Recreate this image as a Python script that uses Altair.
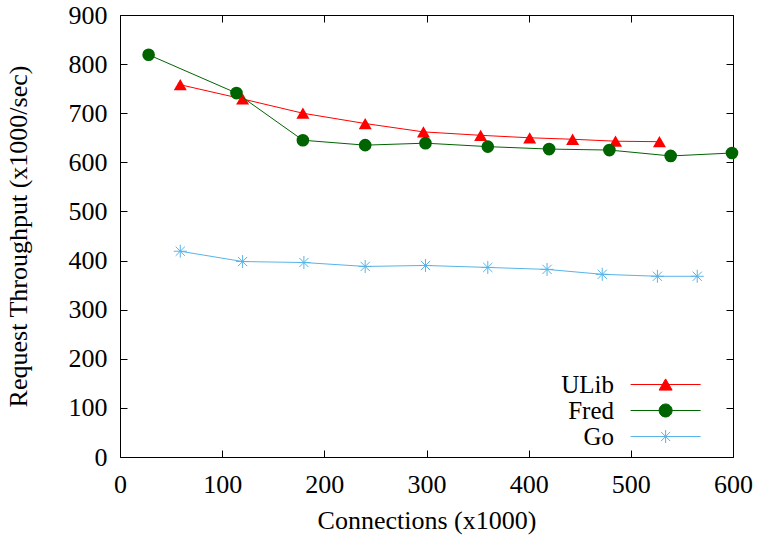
import altair as alt
import pandas as pd

# ---- data ----
series_names = ["ULib", "Fred", "Go"]
series_colors = ["#ff0000", "#006400", "#56b4e9"]

ulib_x = [59, 120, 179, 240, 297, 353, 401, 443, 485, 528]
ulib_y = [758, 729, 700, 679, 662, 655, 650, 647, 643, 642]

fred_x = [28, 114, 179, 240, 299, 360, 420, 479, 539, 599]
fred_y = [819, 741, 645, 635, 639, 632, 627, 625, 613, 619]

go_x = [59, 120, 180, 240, 299, 360, 418, 472, 526, 565]
go_y = [419, 398, 396, 388, 390, 386, 382, 372, 368, 368]

x_ticks = [0, 100, 200, 300, 400, 500, 600]
y_ticks = [0, 100, 200, 300, 400, 500, 600, 700, 800, 900]

x_title = "Connections (x1000)"
y_title = "Request Throughput (x1000/sec)"

# ---- tables ----
rows = []
for name, xs_, ys_ in zip(series_names, [ulib_x, fred_x, go_x], [ulib_y, fred_y, go_y]):
    for i, (a, b) in enumerate(zip(xs_, ys_)):
        rows.append({"series": name, "conn": a, "thr": b, "idx": i})
df = pd.DataFrame(rows)
legend_df = pd.DataFrame({"series": series_names})

FONT = "'Liberation Serif', 'DejaVu Serif', 'Times New Roman', serif"
FS = 26

xscale = alt.Scale(domain=[0, 600], nice=False, zero=False)
yscale = alt.Scale(domain=[0, 900], nice=False, zero=False)

main_x_axis = alt.Axis(orient="bottom", values=x_ticks, ticks=False, tickSize=0, domain=False,
                       grid=False, labelFont=FONT, labelFontSize=FS, labelColor="black",
                       labelFlush=False, labelOverlap=False,
                       labelPadding=14, title=x_title, titleFont=FONT, titleFontSize=FS,
                       titleFontWeight="normal", titleColor="black", titlePadding=10)
main_y_axis = alt.Axis(orient="left", values=y_ticks, ticks=False, tickSize=0, domain=False,
                       grid=False, labelFont=FONT, labelFontSize=FS, labelColor="black",
                       labelFlush=False, labelOverlap=False,
                       labelPadding=13, title=y_title, titleFont=FONT, titleFontSize=FS,
                       titleFontWeight="normal", titleColor="black", titlePadding=37)


def tick_axis(orient, values):
    return alt.Axis(orient=orient, values=values, offset=-7, tickSize=7, tickColor="black",
                    tickWidth=1, labels=False, domain=False, grid=False, title=None)


asterisk = "M-1,0H1M0,-1V1M-0.71,-0.71L0.71,0.71M-0.71,0.71L0.71,-0.71"
# legend symbols: a line sample with the marker in its middle, shifted right of the label
legend_paths = [
    "M4.16,0H14.16M9.16,-0.8L10.09,0.8L8.23,0.8Z",
    "M4.16,0H14.16M10.09,0A0.93,0.93,0,1,1,8.23,0A0.93,0.93,0,1,1,10.09,0Z",
    "M4.16,0H14.16M8.23,0H10.09M9.16,-0.93V0.93M8.5,-0.66L9.82,0.66M8.5,0.66L9.82,-0.66",
]

base = alt.Chart(df)


def sel(name):
    return base.transform_filter(alt.datum.series == name)


ulib_line = sel("ULib").mark_line(color=series_colors[0], strokeWidth=1).encode(
    x=alt.X("conn:Q", scale=xscale, axis=main_x_axis),
    y=alt.Y("thr:Q", scale=yscale, axis=main_y_axis),
    order="idx:Q",
)
ulib_pts = sel("ULib").mark_point(shape="triangle-up", filled=True, size=169,
                                  color=series_colors[0], opacity=1).encode(
    x=alt.X("conn:Q", scale=xscale, axis=tick_axis("bottom", x_ticks)),
    y=alt.Y("thr:Q", scale=yscale, axis=tick_axis("left", y_ticks)),
)
fred_line = sel("Fred").mark_line(color=series_colors[1], strokeWidth=1).encode(
    x=alt.X("conn:Q", scale=xscale, axis=None),
    y=alt.Y("thr:Q", scale=yscale, axis=None),
    order="idx:Q",
)
fred_pts = sel("Fred").mark_point(shape="circle", filled=True, size=160,
                                  color=series_colors[1], opacity=1).encode(
    x=alt.X("conn:Q", scale=xscale, axis=tick_axis("top", x_ticks)),
    y=alt.Y("thr:Q", scale=yscale, axis=tick_axis("right", y_ticks)),
)
go_line = sel("Go").mark_line(color=series_colors[2], strokeWidth=1).encode(
    x=alt.X("conn:Q", scale=xscale, axis=None),
    y=alt.Y("thr:Q", scale=yscale, axis=None),
    order="idx:Q",
)
go_pts = sel("Go").mark_point(shape=asterisk, filled=False, size=169, strokeWidth=1,
                              color=series_colors[2], opacity=1).encode(
    x=alt.X("conn:Q", scale=xscale, axis=None),
    y=alt.Y("thr:Q", scale=yscale, axis=None),
)

leg = alt.Legend(title=None, orient="none", legendX=469, legendY=357, padding=0,
                 labelAlign="right", labelOffset=0, labelFont=FONT, labelFontSize=25,
                 labelColor="black", symbolSize=196, symbolStrokeWidth=1, symbolOpacity=1,
                 rowPadding=0)

legend_layer = alt.Chart(legend_df).mark_point(opacity=0, size=196, strokeWidth=1).encode(
    shape=alt.Shape("series:N", scale=alt.Scale(domain=series_names, range=legend_paths), legend=leg),
    fill=alt.Fill("series:N", scale=alt.Scale(domain=series_names, range=series_colors), legend=leg),
    stroke=alt.Stroke("series:N", scale=alt.Scale(domain=series_names, range=series_colors), legend=leg),
)

chart = alt.layer(
    ulib_line, ulib_pts, fred_line, fred_pts, go_line, go_pts, legend_layer
).resolve_axis(
    x="independent", y="independent"
).properties(
    width=613, height=442,
    padding={"left": 120, "top": 15, "right": 25, "bottom": 80},
    autosize="none",
    background="white",
).configure_view(stroke="black", strokeWidth=1)

chart.save("out.html", embed_options={"renderer": "svg", "actions": False})
